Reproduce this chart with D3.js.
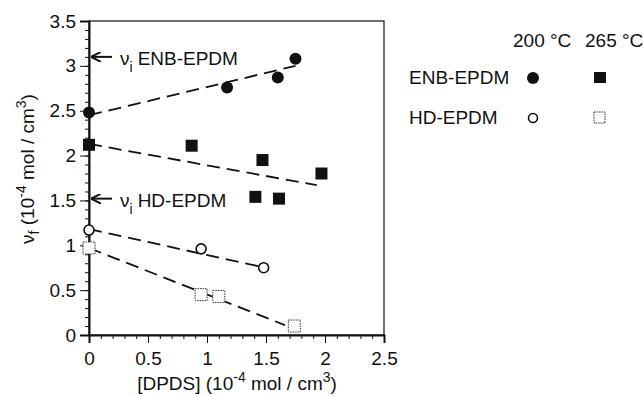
<!DOCTYPE html>
<html><head><meta charset="utf-8">
<script src="https://cdn.jsdelivr.net/npm/d3@7/dist/d3.min.js"></script>
<style>body{margin:0;background:#fff}svg{font-family:"Liberation Sans",Arial,sans-serif}</style>
</head><body><div id="chart"></div>
<script>
// data (DPDS in 1e-4 mol/cm3, nu_f in 1e-4 mol/cm3)
const enb200 = [[0, 2.48], [1.17, 2.76], [1.6, 2.87], [1.75, 3.08]];
const enb265 = [[0, 2.12], [0.87, 2.11], [1.47, 1.95], [1.97, 1.8], [1.41, 1.54], [1.61, 1.52]];
const hd200 = [[0, 1.17], [0.95, 0.96], [1.48, 0.75]];
const hd265 = [[0, 0.97], [0.95, 0.45], [1.1, 0.43], [1.74, 0.1]];
// fitted dashed lines (start, end)
const fitLines = [
  [[0, 2.45], [1.75, 3.0]],
  [[0, 2.13], [1.93, 1.67]],
  [[0, 1.18], [1.46, 0.76]],
  [[0, 0.97], [1.66, 0.11]]
];
const initMarks = [{ y: 3.1, name: 'ENB-EPDM' }, { y: 1.52, name: 'HD-EPDM' }];
const xTicks = [0, 0.5, 1, 1.5, 2, 2.5];
const yTicks = [0, 0.5, 1, 1.5, 2, 2.5, 3, 3.5];
const temps = ['200 °C', '265 °C'];
const series = ['ENB-EPDM', 'HD-EPDM'];

const W = 643, H = 396, FS = 19;
const m = { l: 89, r: 384, t: 21, b: 335 };
const svg = d3.select('#chart').append('svg').attr('width', W).attr('height', H);

const x = d3.scaleLinear().domain([0, 2.5]).range([m.l, m.r]);
const y = d3.scaleLinear().domain([0, 3.5]).range([m.b, m.t]);

// frame
svg.append('rect').attr('x', m.l).attr('y', m.t).attr('width', m.r - m.l).attr('height', m.b - m.t)
  .attr('fill', 'none').attr('stroke', '#111').attr('stroke-width', 1.2);

// minor ticks
const minorX = d3.range(0, 2.501, 0.1);
const minorY = d3.range(0, 3.501, 0.1);
svg.append('g').attr('transform', `translate(0,${m.b})`)
  .call(d3.axisBottom(x).tickValues(minorX).tickSize(4).tickFormat(''))
  .call(g => g.select('.domain').remove());
svg.append('g').attr('transform', `translate(${m.l},0)`)
  .call(d3.axisLeft(y).tickValues(minorY).tickSize(4).tickFormat(''))
  .call(g => g.select('.domain').remove());

const xa = svg.append('g').attr('transform', `translate(0,${m.b})`)
  .call(d3.axisBottom(x).tickValues(xTicks).tickSize(8).tickPadding(9).tickFormat(d3.format('')));
const ya = svg.append('g').attr('transform', `translate(${m.l},0)`)
  .call(d3.axisLeft(y).tickValues(yTicks).tickSize(9).tickPadding(4).tickFormat(d3.format('')));
[xa, ya].forEach(a => {
  a.select('.domain').attr('stroke', '#111').attr('stroke-width', 2);
  a.selectAll('text').attr('font-size', FS).attr('fill', '#111').style('font-family', '"Liberation Sans",Arial,sans-serif');
});
svg.selectAll('.tick line').attr('stroke', '#111');

// dashed fit lines
svg.append('g').selectAll('line').data(fitLines).enter().append('line')
  .attr('x1', d => x(d[0][0])).attr('y1', d => y(d[0][1]))
  .attr('x2', d => x(d[1][0])).attr('y2', d => y(d[1][1]))
  .attr('stroke', '#111').attr('stroke-width', 1.8).attr('stroke-dasharray', '13,7');

// markers
const pts = svg.append('g');
pts.selectAll('.c1').data(enb200).enter().append('circle')
  .attr('cx', d => x(d[0])).attr('cy', d => y(d[1])).attr('r', 6).attr('fill', '#111');
pts.selectAll('.s1').data(enb265).enter().append('rect')
  .attr('x', d => x(d[0]) - 6).attr('y', d => y(d[1]) - 6).attr('width', 12).attr('height', 12).attr('fill', '#111');
pts.selectAll('.c2').data(hd200).enter().append('circle')
  .attr('cx', d => x(d[0])).attr('cy', d => y(d[1])).attr('r', 5).attr('fill', '#fff')
  .attr('stroke', '#111').attr('stroke-width', 1.6);
pts.selectAll('.s2').data(hd265).enter().append('rect')
  .attr('x', d => x(d[0]) - 6).attr('y', d => y(d[1]) - 6).attr('width', 12).attr('height', 12).attr('fill', '#fff')
  .attr('stroke', '#333').attr('stroke-width', 1).attr('stroke-dasharray', '1.5,1');

// nu_i arrows
svg.append('defs').append('marker').attr('id', 'arr').attr('viewBox', '0 -5 10 10')
  .attr('refX', 9).attr('refY', 0).attr('markerWidth', 5).attr('markerHeight', 5).attr('orient', 'auto')
  .append('path').attr('d', 'M0,-5L10,0L0,5').attr('fill', 'none').attr('stroke', '#111').attr('stroke-width', 2);
const ann = svg.append('g').selectAll('g').data(initMarks).enter().append('g');
ann.append('line').attr('x1', 112).attr('x2', 92).attr('y1', d => y(d.y)).attr('y2', d => y(d.y))
  .attr('stroke', '#111').attr('stroke-width', 2).attr('marker-end', 'url(#arr)');
const at = ann.append('text').attr('x', 120).attr('y', d => y(d.y) + 8).attr('font-size', FS).attr('fill', '#111');
at.append('tspan').text('ν');
at.append('tspan').attr('dy', 7).attr('font-size', 14).text('i');
at.append('tspan').attr('dy', -7).attr('dx', 5).text(d => d.name);

// axis titles
const xt = svg.append('text').attr('x', 237).attr('y', 390).attr('text-anchor', 'middle')
  .attr('font-size', FS).attr('fill', '#111');
xt.append('tspan').text('[DPDS] (10');
xt.append('tspan').attr('dy', -8).attr('font-size', 14).text('-4');
xt.append('tspan').attr('dy', 8).text(' mol / cm');
xt.append('tspan').attr('dy', -8).attr('font-size', 14).text('3');
xt.append('tspan').attr('dy', 8).text(')');

const yt = svg.append('text').attr('transform', 'translate(34,169) rotate(-90)').attr('text-anchor', 'middle')
  .attr('font-size', FS).attr('fill', '#111');
yt.append('tspan').text('ν');
yt.append('tspan').attr('dy', 5).attr('font-size', 14).text('f');
yt.append('tspan').attr('dy', -5).text(' (10');
yt.append('tspan').attr('dy', -8).attr('font-size', 14).text('-4');
yt.append('tspan').attr('dy', 8).text(' mol / cm');
yt.append('tspan').attr('dy', -8).attr('font-size', 14).text('3');
yt.append('tspan').attr('dy', 8).text(')');

// legend
const lg = svg.append('g').attr('font-size', FS).attr('fill', '#111');
lg.selectAll('.th').data(temps).enter().append('text')
  .attr('x', (d, i) => [513, 585][i]).attr('y', 47).text(d => d);
lg.selectAll('.sn').data(series).enter().append('text')
  .attr('x', 409).attr('y', (d, i) => [84, 124][i]).text(d => d);
lg.append('circle').attr('cx', 533).attr('cy', 78).attr('r', 6).attr('fill', '#111');
lg.append('rect').attr('x', 594).attr('y', 72).attr('width', 12).attr('height', 11).attr('fill', '#111');
lg.append('circle').attr('cx', 533).attr('cy', 118).attr('r', 4.5).attr('fill', '#fff').attr('stroke', '#111').attr('stroke-width', 1.6);
lg.append('rect').attr('x', 594).attr('y', 112).attr('width', 11).attr('height', 11).attr('fill', '#fff')
  .attr('stroke', '#333').attr('stroke-width', 1).attr('stroke-dasharray', '1.5,1');
</script></body></html>
